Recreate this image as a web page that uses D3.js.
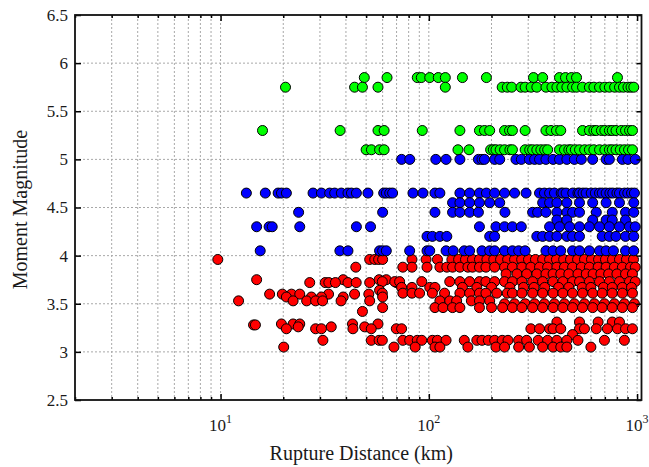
<!DOCTYPE html>
<html>
<head>
<meta charset="utf-8">
<script src="https://cdn.jsdelivr.net/npm/d3@7"></script>
<style>
  body { margin: 0; background: #fff; }
  text { font-family: "Liberation Serif", "Times New Roman", serif; fill: #1a1a1a; }
</style>
</head>
<body>
<script>
// tick values
var xMajorTicks = [10, 100, 1000];
var xExponents = ["1", "2", "3"];
var xMinorTicks = [2, 3, 4, 5, 6, 7, 8, 9, 20, 30, 40, 50, 60, 70, 80, 90, 200, 300, 400, 500, 600, 700, 800, 900];
var yTicks = [2.5, 3, 3.5, 4, 4.5, 5, 5.5, 6, 6.5];

// events: rows of magnitude with rupture distances (km)
var greenRows = [
  {mw: 5.85, km: [49, 63, 88, 92, 101, 111, 120, 145, 189, 318, 352, 424, 453, 484, 512, 805]},
  {mw: 5.75, km: [20.5, 44, 48, 57, 120, 225, 238, 250, 277, 290, 310, 330, 365, 390, 412, 435, 460, 490, 512, 547, 590, 620, 660, 700, 736, 780, 823, 860, 904, 935, 964]},
  {mw: 5.3, km: [15.9, 37.5, 57, 61, 93, 141, 175, 185, 196, 231, 244, 252, 290, 365, 386, 410, 430, 547, 590, 620, 637, 674, 700, 736, 760, 792, 840, 880, 920, 950]},
  {mw: 5.1, km: [50, 53, 58, 61, 138, 156, 198, 204, 210, 220, 231, 245, 252, 290, 305, 315, 330, 345, 360, 372, 424, 448, 470, 483, 505, 529, 560, 590, 620, 660, 700, 736, 760, 792, 830, 870, 910, 950]}
];

var blueRows = [
  {mw: 5.0, km: [74, 81, 108, 121, 141, 173, 180, 185, 207, 219, 262, 278, 304, 322, 340, 365, 395, 424, 460, 500, 540, 612, 710, 736, 850, 904, 980]},
  {mw: 4.65, km: [13.3, 16.4, 18.9, 19.6, 20.7, 27.8, 30.5, 33.4, 35.3, 38, 40.9, 42.5, 44.9, 51, 60.7, 62.5, 64.9, 67, 83.9, 93.7, 107, 113, 141, 157, 175, 189, 207, 231, 258, 293, 340, 359, 380, 401, 432, 440, 456, 491, 520, 529, 550, 569, 602, 630, 660, 680, 710, 740, 764, 800, 823, 870, 902, 940, 971]},
  {mw: 4.55, km: [130, 141, 157, 175, 196, 219, 352, 380, 412, 460, 529, 612, 710, 823, 964]},
  {mw: 4.45, km: [23.7, 60, 107, 130, 141, 157, 173, 232, 315, 333, 365, 412, 460, 490, 529, 637, 760, 880, 964]},
  {mw: 4.37, km: [412, 460, 612, 710, 760, 880]},
  {mw: 4.3, km: [14.9, 17.1, 17.7, 24, 44.9, 52.5, 175, 210, 231, 252, 278, 380, 424, 474, 529, 590, 660, 736, 823, 919, 980]},
  {mw: 4.2, km: [98, 104, 113, 122, 196, 207, 330, 352, 380, 412, 460, 490, 529, 680, 736, 792, 880, 964]},
  {mw: 4.05, km: [15.5, 37.4, 40.9, 58, 60, 62.5, 80.9, 98, 101, 121, 131, 148, 157, 180, 196, 207, 231, 252, 270, 290, 365, 395, 430, 490, 529, 590, 660, 710, 770, 880, 964]}
];

var redRows = [
  {mw: 3.96, km: [9.7, 52, 55, 57.4, 60, 83, 97, 110, 129, 139, 150, 162, 175, 190, 205, 221, 239, 258, 279, 301, 325, 352, 380, 410, 444, 479, 518, 559, 604, 653, 705, 762, 823, 889, 961]},
  {mw: 3.88, km: [44.6, 75, 83, 98, 113, 122, 130, 141, 154, 162, 175, 188, 207, 231, 252, 280, 309, 340, 372, 412, 448, 490, 540, 590, 650, 710, 778, 850, 930, 980]},
  {mw: 3.81, km: [235, 265, 295, 330, 365, 395, 430, 470, 520, 570, 615, 670, 730, 800, 880, 950]},
  {mw: 3.75, km: [14.9, 38.8, 57.7, 62.5]},
  {mw: 3.72, km: [26.8, 31.8, 33.1, 35.6, 40.9, 44.8, 52, 69.8]},
  {mw: 3.73, km: [59.8, 68.6, 72.4, 92.5, 126, 141, 157, 175, 188, 207, 231, 252, 280, 315, 352, 395, 440, 490, 529, 590, 660, 736, 823, 919, 980]},
  {mw: 3.67, km: [74, 83, 101, 107, 145, 170, 200, 245, 285, 320, 360, 420, 470, 545, 600, 690, 760, 850, 940]},
  {mw: 3.64, km: [58]},
  {mw: 3.61, km: [59.8, 75, 83, 90.3, 104, 119, 141, 157, 175, 188, 212, 238, 252, 280, 315, 352, 395, 440, 490, 547, 612, 680, 760, 850, 950]},
  {mw: 3.6, km: [17.2, 19.8, 21.9, 24, 33, 44, 51.5]},
  {mw: 3.57, km: [20.7, 27.3, 30.5, 38.8, 60]},
  {mw: 3.53, km: [12.2, 22.3, 25.9, 28.6, 30.9, 37.9, 52, 113, 126, 136, 160, 175, 196]},
  {mw: 3.5, km: [231, 258, 290, 322, 359, 401, 448, 500, 559, 624, 697, 778, 869, 971]},
  {mw: 3.46, km: [60, 107, 117, 130, 141, 175, 200, 226, 252, 280, 315, 352, 395, 440, 490, 547, 612, 680, 760, 850, 950]},
  {mw: 3.42, km: [48]},
  {mw: 3.31, km: [412, 529, 650, 760, 823]},
  {mw: 3.29, km: [19.6, 22.3, 24, 43, 57]},
  {mw: 3.28, km: [14.4, 14.7]},
  {mw: 3.26, km: [23.6, 34, 49.2]},
  {mw: 3.24, km: [20.7, 28.6, 30.5, 43.2, 52.9, 69.8, 74, 309, 340, 380, 395, 430, 529, 559, 637, 720, 805, 880, 950]},
  {mw: 3.18, km: [490]},
  {mw: 3.12, km: [31, 52.9, 57.7, 59.8, 75, 80.9, 88, 92.5, 104, 110, 121, 148, 170, 180, 193, 207, 225, 240, 270, 295, 335, 372, 412, 460, 520, 697, 869]},
  {mw: 3.05, km: [20.1, 68, 86, 107, 113, 154, 210, 231, 270, 304, 352, 395, 430, 460, 600]}
];

var w = 649, h = 467;
var plotL = 75, plotR = 641.5, plotT = 15, plotB = 400;

var svg = d3.select("body").append("svg")
    .attr("width", w)
    .attr("height", h);

var xScale = d3.scaleLog().domain([2, 1050]).range([plotL, plotR]);
var yScale = d3.scaleLinear().domain([2.5, 6.5]).range([plotB, plotT]);

// grid
var grid = svg.append("g").attr("class", "grid")
    .attr("stroke", "#a8a8a8").attr("stroke-width", 1).attr("stroke-dasharray", "2,2");
grid.selectAll("line.vx")
    .data(xMinorTicks.concat(xMajorTicks).filter(function(d) { return d > 2; }))
    .enter().append("line")
    .attr("x1", function(d) { return xScale(d); })
    .attr("x2", function(d) { return xScale(d); })
    .attr("y1", plotT).attr("y2", plotB);
grid.selectAll("line.hy")
    .data(yTicks.slice(1, -1))
    .enter().append("line")
    .attr("y1", function(d) { return yScale(d); })
    .attr("y2", function(d) { return yScale(d); })
    .attr("x1", plotL).attr("x2", plotR);

// points
function flat(rows) {
  var out = [];
  rows.forEach(function(r) { r.km.forEach(function(k) { out.push([k, r.mw]); }); });
  return out;
}
var series = [
  {pts: flat(redRows), color: "#ff0000"},
  {pts: flat(blueRows), color: "#0000ff"},
  {pts: flat(greenRows), color: "#00ff00"}
];
series.forEach(function(s) {
  svg.append("g").selectAll("circle")
    .data(s.pts)
    .enter().append("circle")
    .attr("cx", function(d) { return xScale(d[0]); })
    .attr("cy", function(d) { return yScale(d[1]); })
    .attr("r", 5)
    .attr("fill", s.color)
    .attr("stroke", "#000")
    .attr("stroke-width", 1);
});

// axes (ticks inward on all sides)
function styleAxis(g) {
  g.select(".domain").remove();
  g.selectAll(".tick line").attr("stroke", "#000").attr("stroke-width", 1.5);
}
svg.append("g").attr("transform", "translate(" + plotL + ",0)")
  .call(d3.axisLeft(yScale).tickValues(yTicks).tickSize(-6).tickPadding(7).tickFormat(function(d) { return d; }))
  .call(styleAxis)
  .selectAll("text").attr("font-size", 17).attr("fill", "#1a1a1a")
  .style("font-family", "'Liberation Serif', serif");
svg.append("g").attr("transform", "translate(" + plotR + ",0)")
  .call(d3.axisRight(yScale).tickValues(yTicks).tickSize(-5).tickFormat(""))
  .call(styleAxis);
[[plotB, d3.axisBottom], [plotT, d3.axisTop]].forEach(function(a) {
  svg.append("g").attr("transform", "translate(0," + a[0] + ")")
    .call(a[1](xScale).tickValues(xMajorTicks).tickSize(-6).tickFormat(""))
    .call(styleAxis);
  svg.append("g").attr("transform", "translate(0," + a[0] + ")")
    .call(a[1](xScale).tickValues(xMinorTicks).tickSize(-3).tickFormat(""))
    .call(styleAxis);
});

// frame
svg.append("rect")
  .attr("x", plotL).attr("y", plotT)
  .attr("width", plotR - plotL).attr("height", plotB - plotT)
  .attr("fill", "none").attr("stroke", "#111").attr("stroke-width", 1.8);

// x tick labels 10^n
svg.selectAll("text.xl")
  .data(xMajorTicks)
  .enter().append("text")
  .attr("x", function(d) { return xScale(d); })
  .attr("y", 431)
  .attr("text-anchor", "middle")
  .attr("font-size", 17)
  .each(function(d, i) {
    var t = d3.select(this);
    t.append("tspan").text("10");
    t.append("tspan").attr("dy", -8).attr("font-size", 12).text(xExponents[i]);
  });

// axis titles
svg.append("text")
  .attr("x", (plotL + plotR) / 2 + 3).attr("y", 460)
  .attr("text-anchor", "middle").attr("font-size", 20)
  .text("Rupture Distance (km)");
svg.append("text")
  .attr("transform", "translate(27," + ((plotT + plotB) / 2 + 2) + ") rotate(-90)")
  .attr("text-anchor", "middle").attr("font-size", 20)
  .text("Moment Magnitude");
</script>
</body>
</html>
